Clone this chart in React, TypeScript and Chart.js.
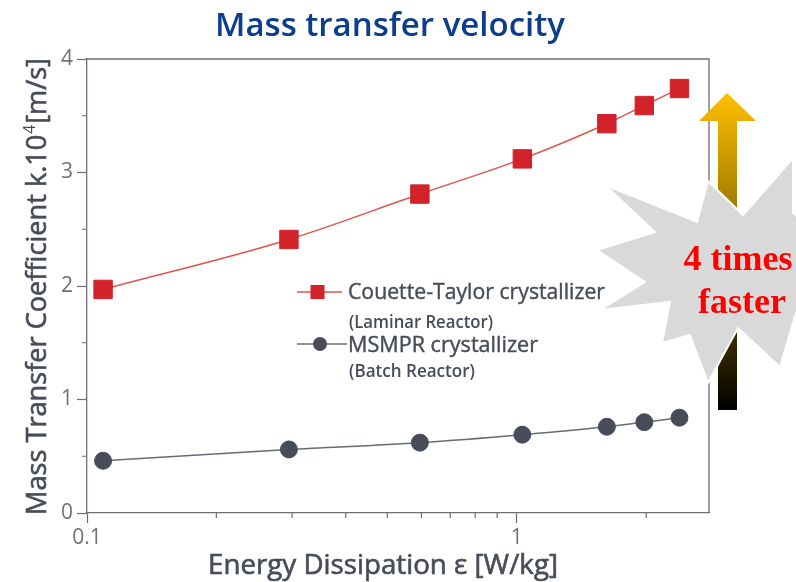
import React, { useEffect, useRef } from 'react';
import { Chart, registerables } from 'chart.js';

Chart.register(...registerables);

// ---- data ----
const energyDissipation = [0.109, 0.295, 0.595, 1.03, 1.62, 1.98, 2.39];
const couetteTaylorK = [1.97, 2.41, 2.81, 3.12, 3.43, 3.59, 3.74];
const msmprK = [0.46, 0.56, 0.62, 0.69, 0.76, 0.8, 0.84];
const xTickValues = [0.1, 0.2, 0.3, 0.4, 0.5, 0.6, 0.7, 0.8, 0.9, 1, 2];
const xLabelValues = [0.1, 1];
const yTickValues = [0, 0.5, 1, 1.5, 2, 2.5, 3, 3.5, 4];
const seriesNames = ['Couette-Taylor crystallizer', 'MSMPR crystallizer'];
const seriesNotes = ['(Laminar Reactor)', '(Batch Reactor)'];
const chartTitle = 'Mass transfer velocity';
const xAxisTitle = 'Energy Dissipation ε [W/kg]';
const yAxisTitleMain = 'Mass Transfer Coefficient k.10';
const yAxisTitleSup = '4';
const yAxisTitleUnit = '[m/s]';
const calloutLines = ['4 times', 'faster'];

// ---- styles ----
const FONT = "'Open Sans', 'Noto Sans', sans-serif";
const RED = '#d2232a';
const RED_LINE = '#e0554b';
const DARK = '#474c58';
const GRAY_LINE = '#676b75';
const AXIS = '#6b6e78';
const TICK_TEXT = '#6e717b';
const TITLE_BLUE = '#0d3e8c';

function fitText(
  ctx: CanvasRenderingContext2D,
  text: string,
  x: number,
  y: number,
  width: number,
  font: string,
  color: string,
  align: CanvasTextAlign,
  embolden = 0
) {
  ctx.save();
  ctx.font = font;
  ctx.fillStyle = color;
  ctx.strokeStyle = color;
  ctx.textBaseline = 'alphabetic';
  ctx.textAlign = align;
  const w = ctx.measureText(text).width;
  ctx.translate(x, y);
  ctx.scale(width / w, 1);
  ctx.fillText(text, 0, 0);
  if (embolden > 0) {
    ctx.lineWidth = embolden;
    ctx.strokeText(text, 0, 0);
  }
  ctx.restore();
}

const decorPlugin = {
  id: 'decor',
  afterDraw(chart: any) {
    const ctx: CanvasRenderingContext2D = chart.ctx;
    const { left, right, top, bottom } = chart.chartArea;
    const xs = chart.scales.x;
    const ys = chart.scales.y;

    // frame (top / right)
    ctx.save();
    ctx.strokeStyle = AXIS;
    ctx.lineWidth = 1.3;
    ctx.beginPath();
    ctx.moveTo(left, top);
    ctx.lineTo(right, top);
    ctx.lineTo(right, bottom);
    ctx.stroke();

    // minor ticks
    ctx.lineWidth = 1.2;
    ctx.beginPath();
    xTickValues.forEach((v) => {
      if (xLabelValues.includes(v)) return;
      const px = xs.getPixelForValue(v);
      ctx.moveTo(px, bottom);
      ctx.lineTo(px, bottom + 5);
    });
    yTickValues.forEach((v) => {
      if (Number.isInteger(v)) return;
      const py = ys.getPixelForValue(v);
      ctx.moveTo(left - 5, py);
      ctx.lineTo(left, py);
    });
    ctx.stroke();
    ctx.restore();

    // title
    fitText(ctx, chartTitle, 390, 36, 350, `600 33px ${FONT}`, TITLE_BLUE, 'center');

    // x axis title
    fitText(ctx, xAxisTitle, 383, 574, 350, `27px ${FONT}`, DARK, 'center', 0.6);

    // y axis title (rotated, with superscript)
    ctx.save();
    ctx.fillStyle = DARK;
    ctx.strokeStyle = DARK;
    ctx.lineWidth = 0.6;
    ctx.textBaseline = 'alphabetic';
    ctx.textAlign = 'left';
    ctx.font = `28px ${FONT}`;
    const w1 = ctx.measureText(yAxisTitleMain).width;
    const w3 = ctx.measureText(yAxisTitleUnit).width;
    ctx.font = `16px ${FONT}`;
    const w2 = ctx.measureText(yAxisTitleSup).width + 2;
    const total = w1 + w2 + w3;
    ctx.translate(46, (top + bottom) / 2 + 0.5);
    ctx.rotate(-Math.PI / 2);
    ctx.scale(457 / total, 1);
    const x0 = -total / 2;
    ctx.font = `28px ${FONT}`;
    ctx.fillText(yAxisTitleMain, x0, 0);
    ctx.strokeText(yAxisTitleMain, x0, 0);
    ctx.fillText(yAxisTitleUnit, x0 + w1 + w2, 0);
    ctx.strokeText(yAxisTitleUnit, x0 + w1 + w2, 0);
    ctx.font = `16px ${FONT}`;
    ctx.fillText(yAxisTitleSup, x0 + w1 + 1, -11);
    ctx.restore();

    // legend
    ctx.save();
    ctx.lineWidth = 1.5;
    ctx.strokeStyle = RED_LINE;
    ctx.beginPath();
    ctx.moveTo(297, 292);
    ctx.lineTo(342, 292);
    ctx.stroke();
    ctx.fillStyle = RED;
    ctx.fillRect(310.5, 285, 14, 14);
    ctx.strokeStyle = GRAY_LINE;
    ctx.beginPath();
    ctx.moveTo(297, 344);
    ctx.lineTo(347, 344);
    ctx.stroke();
    ctx.fillStyle = DARK;
    ctx.beginPath();
    ctx.arc(320, 344, 7, 0, Math.PI * 2);
    ctx.fill();
    ctx.restore();
    fitText(ctx, seriesNames[0], 348, 299, 257, `21px ${FONT}`, DARK, 'left', 0.4);
    fitText(ctx, seriesNotes[0], 349, 328, 144, `600 18px ${FONT}`, DARK, 'left');
    fitText(ctx, seriesNames[1], 348, 352, 190, `21px ${FONT}`, DARK, 'left', 0.4);
    fitText(ctx, seriesNotes[1], 349, 377, 126, `600 18px ${FONT}`, DARK, 'left');

    // arrow
    ctx.save();
    const grad = ctx.createLinearGradient(0, 93, 0, 410);
    grad.addColorStop(0, '#ffc000');
    grad.addColorStop(1, '#000000');
    ctx.fillStyle = grad;
    ctx.beginPath();
    ctx.moveTo(727, 93);
    ctx.lineTo(756, 121);
    ctx.lineTo(737, 121);
    ctx.lineTo(737, 410);
    ctx.lineTo(718, 410);
    ctx.lineTo(718, 121);
    ctx.lineTo(699, 121);
    ctx.closePath();
    ctx.fill();
    ctx.restore();

    // starburst
    const burst = [
      [597, 250], [655, 232], [605, 185], [697, 222], [708, 181], [743, 215],
      [793, 158], [793, 213], [850, 260], [796, 313], [780, 367], [738, 328],
      [708, 383], [690, 335], [662, 343], [670, 302], [600, 310], [645, 282],
    ];
    ctx.save();
    ctx.beginPath();
    burst.forEach(([bx, by], i) => (i ? ctx.lineTo(bx, by) : ctx.moveTo(bx, by)));
    ctx.closePath();
    ctx.fillStyle = '#d9d9d9';
    ctx.fill();
    ctx.strokeStyle = '#ffffff';
    ctx.lineWidth = 2;
    ctx.stroke();
    ctx.fillStyle = '#ff0000';
    ctx.font = `bold 36px 'Liberation Serif', 'DejaVu Serif', serif`;
    ctx.textAlign = 'center';
    ctx.textBaseline = 'alphabetic';
    ctx.fillText(calloutLines[0], 738, 270);
    ctx.fillText(calloutLines[1], 742, 313);
    ctx.restore();
  },
};

export default function App() {
  const ref = useRef<HTMLCanvasElement>(null);
  useEffect(() => {
    document.body.style.margin = '0';
    const canvas = ref.current!;
    const tickFont = { family: FONT, size: 21 };
    const chart = new Chart(canvas, {
      type: 'line',
      data: {
        datasets: [
          {
            label: seriesNames[0],
            data: energyDissipation.map((x, i) => ({ x, y: couetteTaylorK[i] })),
            borderColor: RED_LINE,
            borderWidth: 1.5,
            pointStyle: 'rect',
            pointRadius: 13,
            pointBackgroundColor: RED,
            pointBorderColor: RED,
            pointBorderWidth: 1,
            cubicInterpolationMode: 'monotone',
            clip: false,
          },
          {
            label: seriesNames[1],
            data: energyDissipation.map((x, i) => ({ x, y: msmprK[i] })),
            borderColor: GRAY_LINE,
            borderWidth: 1.5,
            pointStyle: 'circle',
            pointRadius: 8.5,
            pointBackgroundColor: DARK,
            pointBorderColor: DARK,
            pointBorderWidth: 1,
            cubicInterpolationMode: 'monotone',
            clip: false,
          },
        ],
      },
      options: {
        responsive: false,
        animation: false,
        devicePixelRatio: 1,
        layout: { padding: { top: 59, right: 87, left: 0, bottom: 0 } },
        plugins: {
          legend: { display: false },
          tooltip: { enabled: false },
          title: { display: false },
        },
        scales: {
          x: {
            type: 'logarithmic',
            min: 0.1,
            max: 2.8,
            afterFit: (s: any) => {
              s.height = 69;
            },
            afterBuildTicks: (s: any) => {
              s.ticks = xTickValues.map((v) => ({ value: v, major: false }));
            },
            ticks: {
              autoSkip: false,
              maxRotation: 0,
              padding: 2,
              font: tickFont,
              color: TICK_TEXT,
              callback: (v: any) => (xLabelValues.includes(Number(v)) ? String(v) : ''),
            },
            grid: {
              drawOnChartArea: false,
              drawTicks: true,
              tickLength: 10,
              tickWidth: 1.2,
              tickColor: (c: any) =>
                c.tick && xLabelValues.includes(c.tick.value) ? AXIS : 'rgba(0,0,0,0)',
            },
            border: { color: AXIS, width: 1.3 },
          },
          y: {
            type: 'linear',
            min: 0,
            max: 4,
            afterFit: (s: any) => {
              s.width = 87;
            },
            afterBuildTicks: (s: any) => {
              s.ticks = yTickValues.map((v) => ({ value: v }));
            },
            ticks: {
              autoSkip: false,
              padding: 4,
              font: tickFont,
              color: TICK_TEXT,
              callback: (v: any) => (Number.isInteger(Number(v)) ? String(v) : ''),
            },
            grid: {
              drawOnChartArea: false,
              drawTicks: true,
              tickLength: 10,
              tickWidth: 1.2,
              tickColor: (c: any) =>
                c.tick && Number.isInteger(c.tick.value) ? AXIS : 'rgba(0,0,0,0)',
            },
            border: { color: AXIS, width: 1.3 },
          },
        },
      } as any,
      plugins: [decorPlugin],
    });
    return () => chart.destroy();
  }, []);
  return <canvas ref={ref} width={796} height={582} style={{ display: 'block' }} />;
}
